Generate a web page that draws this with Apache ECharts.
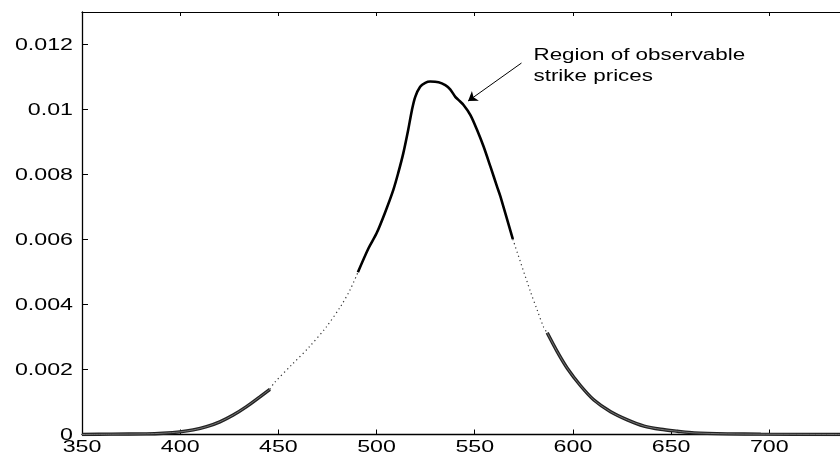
<!DOCTYPE html>
<html><head><meta charset="utf-8">
<script src="https://cdn.jsdelivr.net/npm/echarts@6/dist/echarts.min.js"></script>
<style>html,body{margin:0;padding:0;background:#fff}#c{width:840px;height:458px}</style>
</head><body><div id="c"></div>
<script>
// ---- tick labels ----
const xTickValues = [350, 400, 450, 500, 550, 600, 650, 700];
const yTickValues = [0, 0.002, 0.004, 0.006, 0.008, 0.01, 0.012];
const yTickLabels = ['0', '0.002', '0.004', '0.006', '0.008', '0.01', '0.012'];
const annotationLines = ['Region of observable', 'strike prices'];

// ---- density curve ----
// left tail (circle markers)
const leftTailX = [350, 365, 382.8, 391.3, 399.8, 406.6, 413.4, 420.2, 427.0, 433.8, 440.6, 445.7];
const leftTailY = [0, 0.00001, 0.00002, 0.00004, 0.00008, 0.00014, 0.00024, 0.00039, 0.00060, 0.00086, 0.00116, 0.00139];
// left gap (dotted)
const leftGapX = [445.7, 447.8, 456.9, 465.8, 474.3, 481.8, 486.5, 490.5];
const leftGapY = [0.00139, 0.00158, 0.00215, 0.00270, 0.00330, 0.00395, 0.00445, 0.00499];
// observable strikes (solid)
const solidX = [490.5, 495.9, 500.0, 504.2, 508.5, 511.0, 513.6, 516.1, 518.0, 519.7, 522.2, 524.8, 527.3, 531.6, 535.0, 537.5, 540.1, 541.8, 544.3, 547.8, 551.2, 554.5, 558.0, 561.4, 563.1, 569.4];
const solidY = [0.00499, 0.00573, 0.00619, 0.00681, 0.00752, 0.00804, 0.00865, 0.00937, 0.00998, 0.01039, 0.01070, 0.01082, 0.01086, 0.01084, 0.01075, 0.01062, 0.01039, 0.01029, 0.01014, 0.00983, 0.00937, 0.00886, 0.00824, 0.00762, 0.00732, 0.00601];
// right gap (dotted)
const rightGapX = [569.4, 578.4, 581.8, 585.1, 586.9];
const rightGapY = [0.00601, 0.00439, 0.00383, 0.00330, 0.00313];
// right tail (circle markers)
const rightTailX = [586.9, 592.0, 597.1, 603.9, 610.7, 619.2, 627.7, 636.2, 644.7, 653.2, 661.7, 678.7, 695.7, 736];
const rightTailY = [0.00313, 0.00255, 0.00204, 0.00150, 0.00106, 0.00070, 0.00045, 0.00026, 0.00016, 0.00010, 0.00005, 0.00002, 0.00001, 0];

// arrow of the annotation (data coordinates)
const arrowFrom = [573.8, 0.01143];
const arrowTo = [546.6, 0.01026];

function pairs(xs, ys) { return xs.map((x, i) => [x, ys[i]]); }

const FONT = '"Liberation Sans", Arial, Helvetica, sans-serif';
const chart = echarts.init(document.getElementById('c'), null, { renderer: 'canvas' });

const axisCommon = {
  type: 'value', min: 350, max: 736, interval: 50,
  axisLabel: { show: false }, splitLine: { show: false }
};

const option = {
  animation: false,
  backgroundColor: '#fff',
  grid: { left: 82, right: 0, top: 12, bottom: 23.5, containLabel: false },
  xAxis: [
    Object.assign({}, axisCommon, {
      position: 'bottom',
      axisLine: { show: true, onZero: false, lineStyle: { color: '#000', width: 1.3 } },
      axisTick: { show: true, inside: true, length: 5, lineStyle: { color: '#000', width: 1 } }
    }),
    Object.assign({}, axisCommon, {
      position: 'top',
      axisLine: { show: true, onZero: false, lineStyle: { color: '#000', width: 1.2 } },
      axisTick: { show: true, inside: true, length: 4, lineStyle: { color: '#000', width: 1 } }
    })
  ],
  yAxis: {
    type: 'value', min: 0, max: 0.013, interval: 0.002,
    axisLine: { show: true, onZero: false, lineStyle: { color: '#000', width: 1.3 } },
    axisTick: { show: true, inside: true, length: 6, lineStyle: { color: '#000', width: 1 } },
    axisLabel: { show: false }, splitLine: { show: false }
  },
  series: [
    {
      name: 'left tail', type: 'line', data: pairs(leftTailX, leftTailY),
      showSymbol: false, smooth: 0.3, lineStyle: { color: '#222', width: 3.4 }, z: 3
    },
    {
      name: 'left tail inner', type: 'line', data: pairs(leftTailX, leftTailY),
      showSymbol: false, smooth: 0.3, lineStyle: { color: '#8a8a8a', width: 0.8 }, z: 4
    },
    {
      name: 'left gap', type: 'line', data: pairs(leftGapX, leftGapY),
      showSymbol: false, smooth: 0.3, lineStyle: { color: '#333', width: 1.2, type: [1.2, 3.2] }, z: 3
    },
    {
      name: 'observable', type: 'line', data: pairs(solidX, solidY),
      showSymbol: false, smooth: 0.3, lineStyle: { color: '#000', width: 2.6 }, z: 5,
      markLine: {
        silent: true, animation: false,
        symbol: ['none', 'arrow'], symbolSize: 9,
        label: { show: false },
        emphasis: { disabled: true },
        lineStyle: { color: '#000', width: 1, type: 'solid' },
        data: [[{ coord: arrowFrom }, { coord: arrowTo }]]
      }
    },
    {
      name: 'right gap', type: 'line', data: pairs(rightGapX, rightGapY),
      showSymbol: false, smooth: 0.3, lineStyle: { color: '#333', width: 1.2, type: [1.2, 3.2] }, z: 3
    },
    {
      name: 'right tail', type: 'line', data: pairs(rightTailX, rightTailY),
      showSymbol: false, smooth: 0.3, lineStyle: { color: '#222', width: 3.4 }, z: 3
    },
    {
      name: 'right tail inner', type: 'line', data: pairs(rightTailX, rightTailY),
      showSymbol: false, smooth: 0.3, lineStyle: { color: '#8a8a8a', width: 0.8 }, z: 4
    }
  ]
};
chart.setOption(option);

// ---- text (real text, horizontally widened like the original) ----
const SX = 1.45;
const texts = [];
xTickValues.forEach(v => {
  const p = chart.convertToPixel({ gridIndex: 0 }, [v, 0]);
  texts.push({
    type: 'text', x: p[0], y: p[1] + 13, scaleX: SX, z: 10,
    style: { text: String(v), font: '16px ' + FONT, fill: '#000', textAlign: 'center', textVerticalAlign: 'middle', align: 'center', verticalAlign: 'middle' }
  });
});
yTickValues.forEach((v, i) => {
  const p = chart.convertToPixel({ gridIndex: 0 }, [350, v]);
  texts.push({
    type: 'text', x: p[0] - 9, y: p[1] + 1, scaleX: SX, z: 10,
    style: { text: yTickLabels[i], font: '16px ' + FONT, fill: '#000', textAlign: 'right', textVerticalAlign: 'middle', align: 'right', verticalAlign: 'middle' }
  });
});
const annoAnchor = chart.convertToPixel({ gridIndex: 0 }, [arrowFrom[0], arrowFrom[1]]);
annotationLines.forEach((t, i) => {
  texts.push({
    type: 'text', x: annoAnchor[0] + 12, y: 55.5 + i * 21, scaleX: 1.4, z: 10,
    style: { text: t, font: '16px ' + FONT, fill: '#000', textAlign: 'left', textVerticalAlign: 'middle', align: 'left', verticalAlign: 'middle' }
  });
});
chart.setOption({ graphic: { elements: texts } });
</script>
</body></html>
